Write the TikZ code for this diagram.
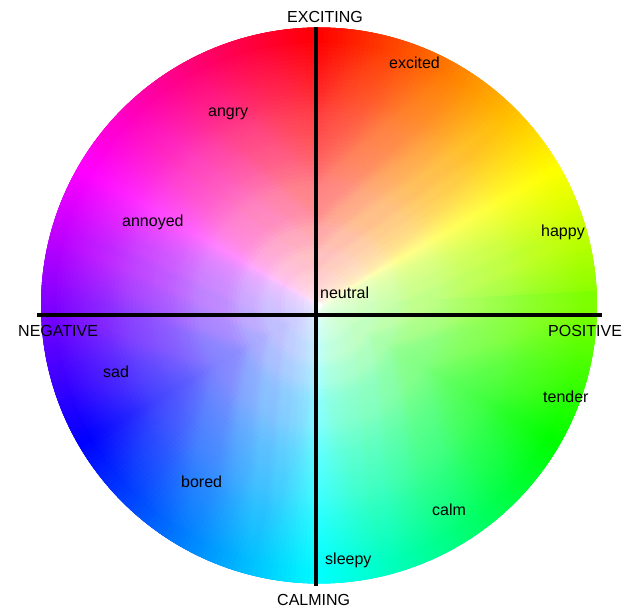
\documentclass[tikz,border=0pt]{standalone}
\usepackage{fontspec}
\setmainfont{Liberation Sans}

\tikzset{
  axis/.style={line width=4pt},
  mood/.style={anchor=base west, inner sep=0pt, font=\fontsize{16}{19}\selectfont}
}

\begin{document}
\begin{tikzpicture}[x=1pt, y=1pt]
  \useasboundingbox (0,0) rectangle (633,-609);
  \coordinate (wheel) at (319,-305.5);
  \begin{scope}[shift={(wheel)}]
    % hue wedges, red on top, clockwise
    \foreach \a in {0,...,359} {
      \pgfmathsetmacro{\hue}{mod(449.5-\a,360)}
      \definecolor{wedgecol}{Hsb}{\hue,1,1}
      \fill[wedgecol] (0,0) -- (\a:278) arc[start angle=\a, end angle=\a+4, radius=278] -- cycle;
    }
    % white towards the middle
    \foreach \k in {1,...,69} {
      \pgfmathsetmacro{\op}{1/(\k+1)}
      \fill[white, opacity=\op, rotate=\k*47] (0,0) circle[radius=\k*3.8];
    }
    \fill[white] (0,0) circle[radius=3.8];
  \end{scope}
  % axes
  \coordinate (axtop) at (316,-27);
  \coordinate (axbottom) at (316,-586);
  \coordinate (axleft) at (37,-315);
  \coordinate (axright) at (602,-315);
  \draw[axis] (axtop) -- (axbottom);
  \draw[axis] (axleft) -- (axright);
  % labels
  \node[mood] (exciting) at (287,-23) {EXCITING};
  \node[mood] (calming) at (277,-606) {CALMING};
  \node[mood] (negative) at (18,-337) {NEGATIVE};
  \node[mood] (positive) at (548,-337) {POSITIVE};
  \node[mood] (neutral) at (320,-299) {neutral};
  \node[mood] (excited) at (389,-69) {excited};
  \node[mood] (angry) at (208,-117) {angry};
  \node[mood] (annoyed) at (122,-227) {annoyed};
  \node[mood] (happy) at (541,-237) {happy};
  \node[mood] (sad) at (103,-378) {sad};
  \node[mood] (tender) at (543,-403) {tender};
  \node[mood] (bored) at (181,-488) {bored};
  \node[mood] (calm) at (432,-516) {calm};
  \node[mood] (sleepy) at (325,-565) {sleepy};
\end{tikzpicture}
\end{document}
